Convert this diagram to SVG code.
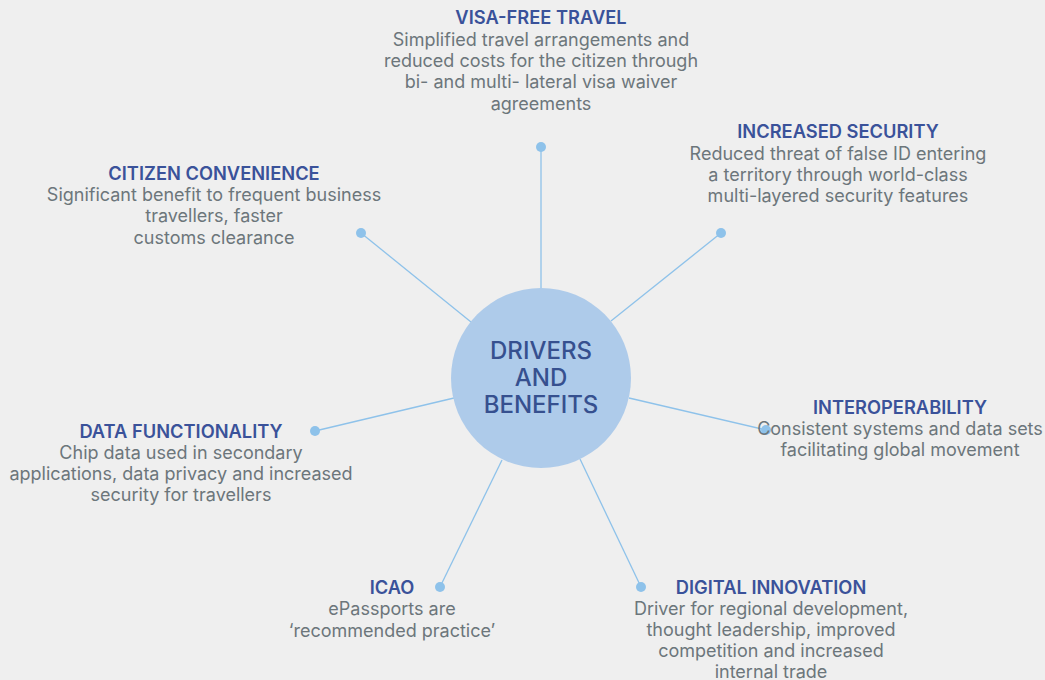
<svg xmlns="http://www.w3.org/2000/svg" width="1045" height="680" viewBox="0 0 1045 680">
<style>
.t{font-family:Inter,"Liberation Sans",sans-serif;font-size:18.3px;font-weight:600;fill:#3a529a;text-anchor:middle}
.b{font-family:Inter,"Liberation Sans",sans-serif;font-size:18px;fill:#6c767b;text-anchor:middle}
.c{font-family:Inter,"Liberation Sans",sans-serif;font-size:24px;font-weight:500;fill:#36508f;text-anchor:middle}
.ln{stroke:#8ec2ea;stroke-width:1.3;fill:none}
.dot{fill:#8ec2ea}
</style>
<rect width="1045" height="680" fill="#efefef"/>
<g id="connectors">
<line class="ln" x1="541" y1="147" x2="541" y2="288"/>
<line class="ln" x1="721" y1="233" x2="611" y2="321"/>
<line class="ln" x1="361" y1="233" x2="471" y2="322"/>
<line class="ln" x1="766" y1="430" x2="629" y2="398"/>
<line class="ln" x1="315" y1="431" x2="454" y2="398"/>
<line class="ln" x1="440" y1="587" x2="502" y2="460"/>
<line class="ln" x1="641" y1="587" x2="580" y2="459"/>
<circle class="dot" cx="541" cy="147" r="5"/>
<circle class="dot" cx="721" cy="233" r="5"/>
<circle class="dot" cx="361" cy="233" r="5"/>
<circle class="dot" cx="766" cy="430" r="5"/>
<circle class="dot" cx="315" cy="431" r="5"/>
<circle class="dot" cx="440" cy="587" r="5"/>
<circle class="dot" cx="641" cy="587" r="5"/>
</g>
<g id="center">
<circle cx="541" cy="378" r="90" fill="#aecbea"/>
<text class="c" x="541" y="359">DRIVERS</text>
<text class="c" x="541" y="386">AND</text>
<text class="c" x="541" y="413">BENEFITS</text>
</g>
<g id="visa">
<text class="t" x="541" y="24">VISA-FREE TRAVEL</text>
<text class="b" x="541" y="46">Simplified travel arrangements and</text>
<text class="b" x="541" y="67">reduced costs for the citizen through</text>
<text class="b" x="541" y="88">bi- and multi- lateral visa waiver</text>
<text class="b" x="541" y="110">agreements</text>
</g>
<g id="security">
<text class="t" x="838" y="138">INCREASED SECURITY</text>
<text class="b" x="838" y="160">Reduced threat of false ID entering</text>
<text class="b" x="838" y="181">a territory through world-class</text>
<text class="b" x="838" y="202">multi-layered security features</text>
</g>
<g id="convenience">
<text class="t" x="214" y="180">CITIZEN CONVENIENCE</text>
<text class="b" x="214" y="201">Significant benefit to frequent business</text>
<text class="b" x="214" y="222">travellers, faster</text>
<text class="b" x="214" y="244">customs clearance</text>
</g>
<g id="interop">
<text class="t" x="900" y="414">INTEROPERABILITY</text>
<text class="b" x="900" y="435">Consistent systems and data sets</text>
<text class="b" x="900" y="456">facilitating global movement</text>
</g>
<g id="data">
<text class="t" x="181" y="438">DATA FUNCTIONALITY</text>
<text class="b" x="181" y="459">Chip data used in secondary</text>
<text class="b" x="181" y="480">applications, data privacy and increased</text>
<text class="b" x="181" y="501">security for travellers</text>
</g>
<g id="icao">
<text class="t" x="392" y="594">ICAO</text>
<text class="b" x="392" y="615">ePassports are</text>
<text class="b" x="392" y="637">‘recommended practice’</text>
</g>
<g id="digital">
<text class="t" x="771" y="594">DIGITAL INNOVATION</text>
<text class="b" x="771" y="615">Driver for regional development,</text>
<text class="b" x="771" y="636">thought leadership, improved</text>
<text class="b" x="771" y="657">competition and increased</text>
<text class="b" x="771" y="678">internal trade</text>
</g>
</svg>
